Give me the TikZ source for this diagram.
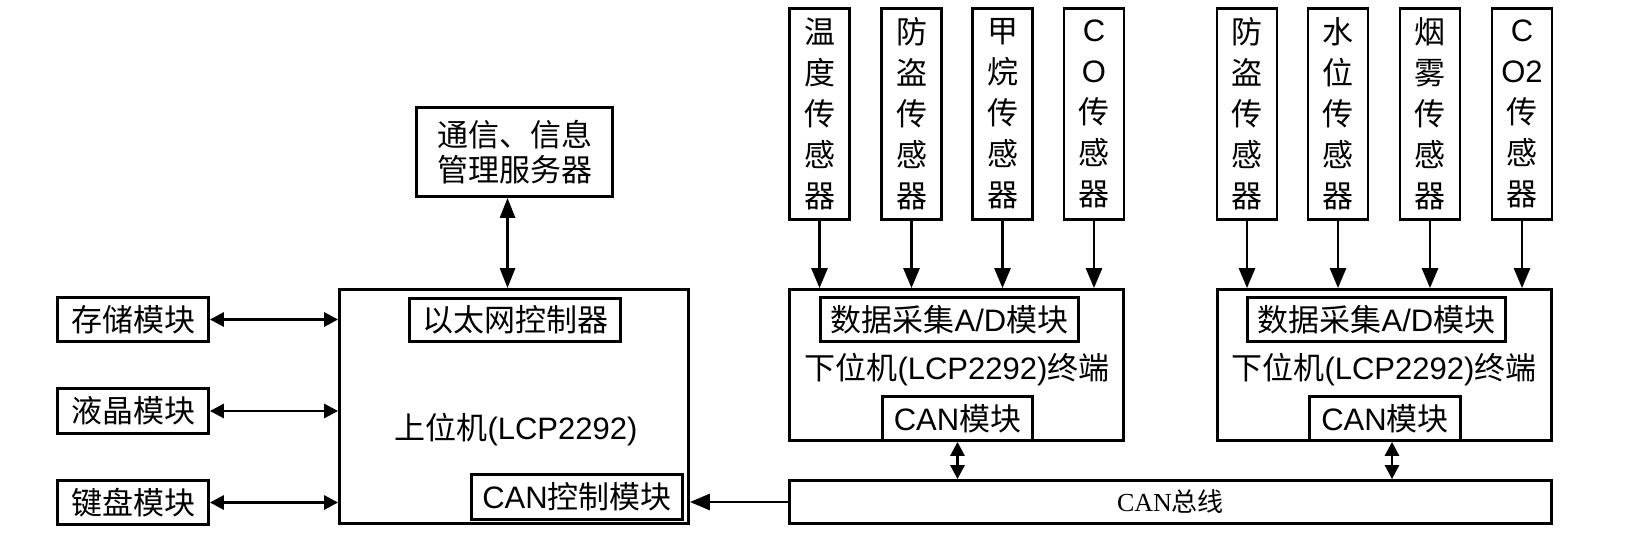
\documentclass[tikz,border=0pt]{standalone}
\usepackage{fontspec}
\setmainfont{Liberation Sans}
\newfontfamily\cjk{Noto Sans CJK SC}
\newfontfamily\busfont{Liberation Serif}
\newcommand{\zh}[1]{{\cjk #1}}
\usetikzlibrary{arrows.meta}

\begin{document}
\begin{tikzpicture}[x=1pt,y=-1pt,
    box/.style={draw, line width=2.8pt, inner sep=0pt, align=center, font=\fontsize{31}{35}\selectfont},
    sensor/.style={box, minimum width=60pt, minimum height=211pt, font=\fontsize{31}{41}\selectfont},
    txt/.style={inner sep=0pt, font=\fontsize{31}{35}\selectfont},
    link/.style={line width=2.8pt, -{Triangle[length=20pt,width=16pt]}},
    duplex/.style={line width=2.8pt, {Triangle[length=14pt,width=14pt]}-{Triangle[length=14pt,width=14pt]}},
    longduplex/.style={line width=2.8pt, {Triangle[length=20pt,width=15pt]}-{Triangle[length=20pt,width=15pt]}}]
    \useasboundingbox (0,0) rectangle (1625,554);

    % host side
    \node[box, minimum width=196pt, minimum height=89pt] (server) at (514.5,152) {\zh{通信、信息}\\\zh{管理服务器}};
    \node[box, minimum width=349pt, minimum height=234pt] (host) at (514,406.5) {};
    \node[box, minimum width=211pt, minimum height=43pt] (eth) at (515,320) {\zh{以太网控制器}};
    \node[txt] (hosttxt) at (516,430) {\zh{上位机}(LCP2292)};
    \node[box, minimum width=211pt, minimum height=45pt] (canctl) at (577,497) {CAN\zh{控制模块}};
    \node[box, minimum width=151pt, minimum height=44pt] (store) at (133,319.5) {\zh{存储模块}};
    \node[box, minimum width=151pt, minimum height=45pt] (lcd) at (133,411) {\zh{液晶模块}};
    \node[box, minimum width=151pt, minimum height=44pt] (keypad) at (133,502.5) {\zh{键盘模块}};

    % terminal 1
    \node[sensor] (temp1) at (819.5,114) {\zh{温}\\\zh{度}\\\zh{传}\\\zh{感}\\\zh{器}};
    \node[sensor] (theft1) at (911.5,114) {\zh{防}\\\zh{盗}\\\zh{传}\\\zh{感}\\\zh{器}};
    \node[sensor] (gas1) at (1002.5,114) {\zh{甲}\\\zh{烷}\\\zh{传}\\\zh{感}\\\zh{器}};
    \node[sensor] (co1) at (1094,114) {C\\O\\\zh{传}\\\zh{感}\\\zh{器}};
    \node[box, minimum width=334pt, minimum height=151pt] (term1) at (956.5,365) {};
    \node[box, minimum width=258pt, minimum height=44pt] (adc1) at (949.5,319.5) {\zh{数据采集}A/D\zh{模块}};
    \node[txt] (term1txt) at (957,370) {\zh{下位机}(LCP2292)\zh{终端}};
    \node[box, minimum width=150pt, minimum height=44pt] (can1) at (957.5,418.5) {CAN\zh{模块}};

    % terminal 2
    \node[sensor] (theft2) at (1247,114) {\zh{防}\\\zh{盗}\\\zh{传}\\\zh{感}\\\zh{器}};
    \node[sensor] (water2) at (1338,114) {\zh{水}\\\zh{位}\\\zh{传}\\\zh{感}\\\zh{器}};
    \node[sensor] (smoke2) at (1430,114) {\zh{烟}\\\zh{雾}\\\zh{传}\\\zh{感}\\\zh{器}};
    \node[sensor] (co22) at (1522,114) {C\\O2\\\zh{传}\\\zh{感}\\\zh{器}};
    \node[box, minimum width=334pt, minimum height=151pt] (term2) at (1384.5,365) {};
    \node[box, minimum width=258pt, minimum height=44pt] (adc2) at (1376.5,319.5) {\zh{数据采集}A/D\zh{模块}};
    \node[txt] (term2txt) at (1384,370) {\zh{下位机}(LCP2292)\zh{终端}};
    \node[box, minimum width=151pt, minimum height=44pt] (can2) at (1385,418.5) {CAN\zh{模块}};

    % bus
    \node[box, minimum width=762pt, minimum height=43pt, font=\fontsize{26}{30}\selectfont] (bus) at (1170.5,502) {{\busfont CAN}\zh{总线}};

    \draw[longduplex] ([xshift=-7pt]server.south) -- ([xshift=-7pt]server.south |- host.north);
    \draw[duplex] (store.east) -- (store.east -| host.west);
    \draw[duplex] (lcd.east) -- (lcd.east -| host.west);
    \draw[duplex] (keypad.east) -- (keypad.east -| host.west);
    \draw[link] (bus.west) -- (bus.west -| host.east);

    \draw[link] (temp1.south) -- (temp1.south |- term1.north);
    \draw[link] (theft1.south) -- (theft1.south |- term1.north);
    \draw[link] (gas1.south) -- (gas1.south |- term1.north);
    \draw[link] (co1.south) -- (co1.south |- term1.north);
    \draw[link] (theft2.south) -- (theft2.south |- term2.north);
    \draw[link] (water2.south) -- (water2.south |- term2.north);
    \draw[link] (smoke2.south) -- (smoke2.south |- term2.north);
    \draw[link] (co22.south) -- (co22.south |- term2.north);

    \draw[duplex] (can1.south) -- (can1.south |- bus.north);
    \draw[duplex] ([xshift=7pt]can2.south) -- ([xshift=7pt]can2.south |- bus.north);
  \end{tikzpicture}
\end{document}
